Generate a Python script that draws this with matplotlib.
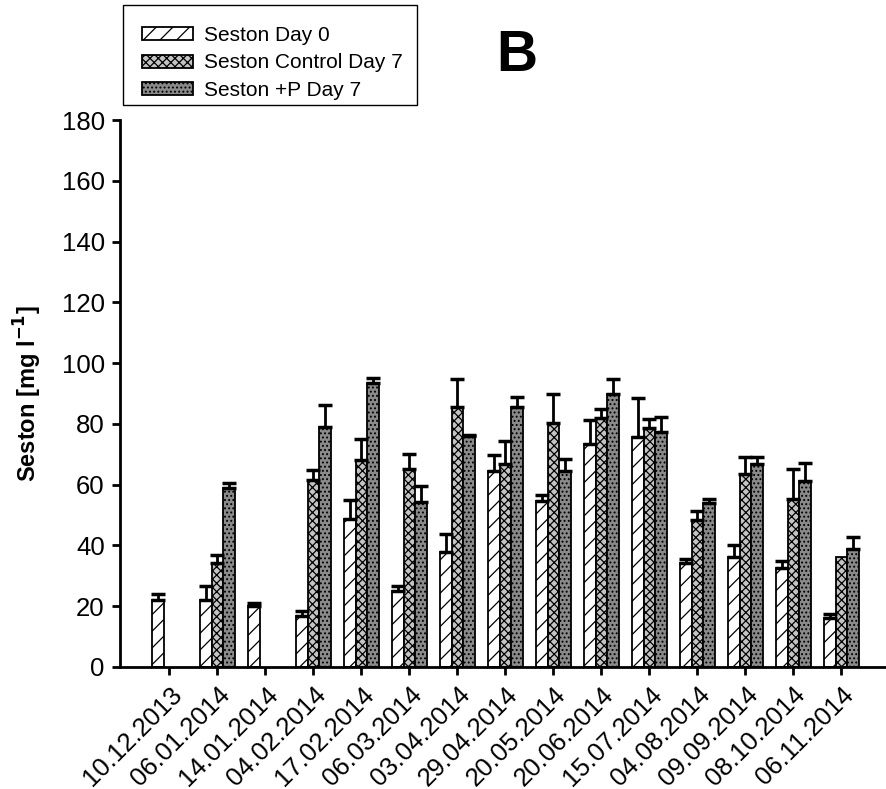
import numpy as np
import matplotlib
matplotlib.use("Agg")
import matplotlib.pyplot as plt
from matplotlib.patches import Rectangle

plt.rcParams['font.family'] = ['Liberation Sans', 'DejaVu Sans']
plt.rcParams['hatch.linewidth'] = 0.9

dates = ['10.12.2013', '06.01.2014', '14.01.2014', '04.02.2014', '17.02.2014',
         '06.03.2014', '03.04.2014', '29.04.2014', '20.05.2014', '20.06.2014',
         '15.07.2014', '04.08.2014', '09.09.2014', '08.10.2014', '06.11.2014']

nan = np.nan
day0 = [22.0, 22.0, 20.2, 16.8, 48.7, 25.1, 37.7, 64.6, 54.6, 73.5, 75.7, 34.2, 36.1, 32.7, 16.2]
day0_err = [2.0, 4.6, 1.0, 1.7, 6.2, 1.5, 6.1, 5.0, 2.0, 7.8, 12.7, 1.5, 4.0, 2.3, 1.2]

control7 = [nan, 34.1, nan, 61.7, 68.1, 65.0, 85.4, 66.8, 80.2, 81.8, 78.5, 48.4, 63.4, 55.2, 36.1]
control7_err = [nan, 2.9, nan, 3.1, 6.9, 5.1, 9.3, 7.6, 9.8, 3.0, 3.0, 2.9, 5.8, 9.8, 0.0]

plus_p7 = [nan, 58.8, nan, 79.0, 93.5, 54.4, 76.1, 85.6, 64.6, 89.8, 77.3, 54.1, 66.8, 61.3, 38.7]
plus_p7_err = [nan, 1.6, nan, 7.2, 1.5, 5.1, 0.3, 3.1, 4.0, 4.9, 5.0, 1.2, 2.4, 5.9, 4.2]

series = [
    ('Seston Day 0', day0, day0_err, 'white', '//'),
    ('Seston Control Day 7', control7, control7_err, '#c4c4c4', 'xxxx'),
    ('Seston +P Day 7', plus_p7, plus_p7_err, '#8a8a8a', '....'),
]

fig = plt.figure(figsize=(8.86, 7.89), dpi=100)
ax = fig.add_axes([120 / 886, 1 - 667 / 789, 1 - 120 / 886, (667 - 120) / 789])

x = np.arange(len(dates))
width = 0.24
for i, (label, vals, errs, color, hatch) in enumerate(series):
    vals = np.array(vals)
    errs = np.array(errs)
    pos = x + (i - 1) * width
    ax.bar(pos, vals, width, color=color, edgecolor='black', linewidth=1.3,
           hatch=hatch, label=label, zorder=2)
    ok = ~np.isnan(vals) & (np.nan_to_num(errs) > 0)
    ax.errorbar(pos[ok], vals[ok], yerr=[np.zeros(ok.sum()), errs[ok]],
                fmt='none', ecolor='black', elinewidth=2, capsize=5, capthick=2.5,
                zorder=3)

ax.set_xlim(-1.03, 14.93)
ax.set_ylim(0, 180)
ax.set_yticks(np.arange(0, 181, 20))
ax.set_xticks(x)
ax.set_xticklabels(dates, rotation=45, ha='right', rotation_mode='anchor')

for s in ['top', 'right']:
    ax.spines[s].set_visible(False)
for s in ['left', 'bottom']:
    ax.spines[s].set_linewidth(2)
ax.tick_params(axis='both', direction='out', length=6, width=2, labelsize=18.5, pad=5)

ax.set_ylabel('Seston [mg l$^{\\mathbf{-1}}$]', fontsize=17, fontweight='bold', labelpad=13)

# legend box drawn separately so the padding can differ on each side
fig.patches.append(Rectangle((123 / 886, 1 - 105 / 789), (417 - 123) / 886, 100 / 789,
                             transform=fig.transFigure, facecolor='white',
                             edgecolor='black', linewidth=1.0, zorder=1))
fig.legend(loc='upper left', bbox_to_anchor=(123 / 886, 1 - 7 / 789), fontsize=15,
           frameon=False, handlelength=2.45, handleheight=0.58, handletextpad=0.53,
           labelspacing=0.42, borderpad=0.9, borderaxespad=0)

fig.text(517 / 886, 1 - 56 / 789, 'B', fontsize=41, fontweight='bold',
         ha='center', va='center')

fig.savefig('out.png', dpi=100)
